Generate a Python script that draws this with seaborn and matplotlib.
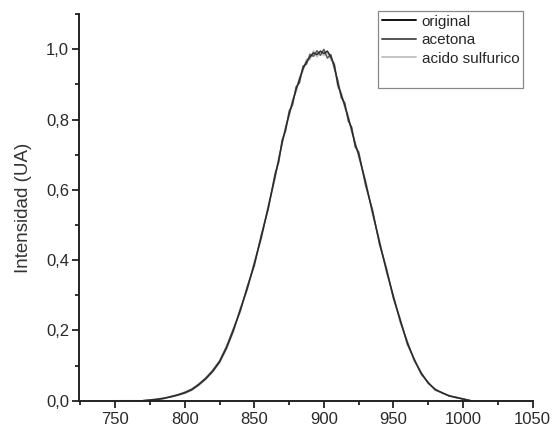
import numpy as np
import pandas as pd
import matplotlib
matplotlib.use("Agg")
import matplotlib.pyplot as plt
from matplotlib.lines import Line2D
from matplotlib.ticker import MultipleLocator, FuncFormatter
import seaborn as sns

# wavelength (nm)
wavelength = [750, 755, 760, 765,
              770, 775, 780, 785, 790, 795, 800, 805, 810, 815,
              820, 825, 830, 835, 840, 845, 850, 855, 860, 865,
              867.5, 870, 872.5, 875, 877.5, 880, 882.5, 885, 887.5, 890,
              892.5, 895, 897.5, 900, 902.5, 905, 907.5, 910, 912.5, 915,
              917.5, 920, 922.5, 925, 930, 935, 940, 945, 950, 955,
              960, 965, 970, 975, 980, 985, 990, 995, 1000, 1005]

nan = np.nan
original = [nan, nan, nan, nan,
            0.000, 0.002, 0.004, 0.007, 0.011, 0.016, 0.022, 0.031, 0.045, 0.062,
            0.083, 0.110, 0.150, 0.200, 0.260, 0.320, 0.390, 0.465, 0.550, 0.640,
            0.685, 0.735, 0.775, 0.815, 0.850, 0.885, 0.915, 0.945, 0.965, 0.978,
            0.990, 0.985, 0.995, 0.988, 0.995, 0.978, 0.955, 0.900, 0.870, 0.840,
            0.805, 0.770, 0.730, 0.700, 0.620, 0.535, 0.450, 0.370, 0.295, 0.225,
            0.165, 0.115, 0.078, 0.050, 0.032, 0.022, 0.014, 0.009, 0.005, 0.000]

acetona = [nan, nan, nan, nan,
           0.000, 0.001, 0.003, 0.006, 0.012, 0.017, 0.024, 0.033, 0.047, 0.064,
           0.086, 0.113, 0.154, 0.205, 0.255, 0.326, 0.384, 0.472, 0.545, 0.648,
           0.678, 0.742, 0.768, 0.824, 0.842, 0.893, 0.905, 0.952, 0.958, 0.986,
           0.980, 0.996, 0.983, 1.000, 0.975, 0.985, 0.945, 0.912, 0.862, 0.848,
           0.796, 0.778, 0.722, 0.708, 0.612, 0.542, 0.444, 0.376, 0.290, 0.230,
           0.160, 0.118, 0.075, 0.052, 0.030, 0.023, 0.013, 0.010, 0.004, 0.001]

acido_sulfurico = [0.000, 0.000, 0.000, 0.000,
                   0.000, 0.002, 0.005, 0.008, 0.010, 0.015, 0.021, 0.029, 0.043, 0.060,
                   0.081, 0.107, 0.146, 0.196, 0.265, 0.315, 0.396, 0.460, 0.556, 0.632,
                   0.692, 0.728, 0.782, 0.808, 0.858, 0.878, 0.922, 0.938, 0.972, 0.970,
                   0.996, 0.978, 0.990, 0.982, 0.990, 0.970, 0.962, 0.892, 0.878, 0.832,
                   0.812, 0.762, 0.738, 0.692, 0.628, 0.528, 0.456, 0.364, 0.300, 0.220,
                   0.170, 0.112, 0.081, 0.048, 0.034, 0.021, 0.015, 0.008, 0.006, 0.000]

series_names = ["original", "acetona", "acido sulfurico"]
series_colors = {"original": "#2b2b2b", "acetona": "#5a5a5a", "acido sulfurico": "#c4c4c4"}

df = pd.concat([
    pd.DataFrame({"x": wavelength, "y": vals, "serie": name})
    for name, vals in zip(series_names, [original, acetona, acido_sulfurico])
]).dropna()

sns.set_style("ticks")
plt.rcParams["font.family"] = ["Liberation Sans", "DejaVu Sans"]

fig = plt.figure(figsize=(5.52, 4.29), dpi=100)
ax = fig.add_axes([0.143, 0.066, 0.822, 0.901])

# light curve first so the dark one stays on top, as in the original
sns.lineplot(data=df, x="x", y="y", hue="serie", hue_order=series_names[::-1],
             palette=series_colors, linewidth=1.1, ax=ax, sort=False,
             estimator=None, legend=False)

ax.set_xlim(724, 1050)
ax.set_ylim(0, 1.1001)
ax.xaxis.set_major_locator(MultipleLocator(50))
ax.xaxis.set_minor_locator(MultipleLocator(25))
ax.yaxis.set_major_locator(MultipleLocator(0.2))
ax.yaxis.set_minor_locator(MultipleLocator(0.1))
ax.yaxis.set_major_formatter(FuncFormatter(lambda v, p: f"{v:.1f}".replace(".", ",")))
ax.tick_params(axis="x", which="major", pad=3)
ax.tick_params(axis="y", which="major", pad=2)
ax.tick_params(axis="both", which="major", labelsize=12, length=5, width=1.3,
               color="#222222", labelcolor="#2a2a2a")
ax.tick_params(axis="both", which="minor", length=3, width=1.3, color="#222222")
for s in ["left", "bottom"]:
    ax.spines[s].set_linewidth(1.4)
    ax.spines[s].set_color("#222222")
sns.despine(ax=ax)

ax.set_xlabel("")
ax.set_ylabel("Intensidad (UA)", fontsize=13.5, color="#333333", labelpad=10)

handles = [Line2D([], [], color=c, linewidth=1.4)
           for c in ["#111111", "#555555", "#c4c4c4"]]
labels = list(series_names)
handles.append(Line2D([], [], color="none"))
labels.append(" ")
leg = fig.legend(handles, labels, loc="upper right", bbox_to_anchor=(0.948, 0.975),
                 fontsize=11, frameon=True, fancybox=False, handlelength=2.2,
                 handletextpad=0.4, labelspacing=0.3, borderpad=0.25,
                 borderaxespad=0.0)
leg.get_frame().set_edgecolor("#888888")
leg.get_frame().set_linewidth(0.9)
leg.get_frame().set_alpha(1)

fig.savefig("out.png", dpi=100)
